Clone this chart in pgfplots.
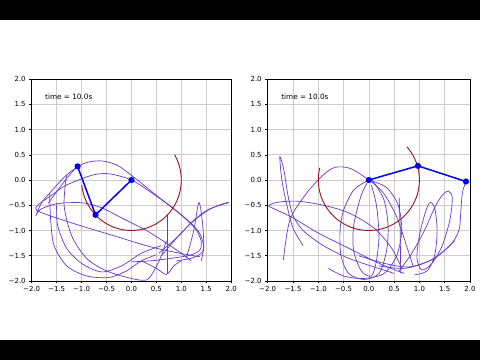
\documentclass[border=0pt]{standalone}
\usepackage{fontspec}
\setmainfont{DejaVu Sans}
\usepackage{pgfplots}
\pgfplotsset{compat=1.18}
\definecolor{trace}{rgb}{0.40,0.22,0.80}
\definecolor{arcred}{rgb}{0.62,0.06,0.12}
\definecolor{gridc}{rgb}{0.80,0.80,0.80}
\pgfplotsset{pend/.style={
  scale only axis, height=202bp,
  xmin=-2,xmax=2,ymin=-2,ymax=2,
  xtick={-2,-1.5,-1,-0.5,0,0.5,1,1.5,2},
  ytick={-2,-1.5,-1,-0.5,0,0.5,1,1.5,2},
  xticklabels={−2.0,−1.5,−1.0,−0.5,0.0,0.5,1.0,1.5,2.0},
  yticklabels={−2.0,−1.5,−1.0,−0.5,0.0,0.5,1.0,1.5,2.0},
  grid=major, major grid style={gridc, line width=0.6bp},
  axis line style={line width=0.6bp},
  tick align=outside, xtick pos=lower, ytick pos=left,
  major tick length=2.5bp, tick style={black, line width=0.5bp},
  ticklabel style={font=\fontsize{7}{8}\selectfont},
  xticklabel style={yshift=1bp},
  anchor=south west},
  tr/.style={trace, line width=0.7bp, smooth, tension=0.5},
  arc/.style={arcred, line width=0.9bp, smooth},
  link/.style={blue, line width=1.5bp, mark=*, mark size=2.3bp, mark options={fill=blue}}
}
\begin{document}
\begin{tikzpicture}
\useasboundingbox (0,0) rectangle (480bp,360bp);
\fill[white] (0,0) rectangle (480bp,360bp);
\fill[black] (0,0) rectangle (480bp,20bp);
\fill[black] (0,340bp) rectangle (480bp,360bp);
% left
\begin{axis}[pend, width=199.5bp, at={(31.7bp,79bp)}]
\addplot[tr] coordinates {(1.2,-1.6) (1.0,-1.45) (0.7,-1.25) (0.3,-1.0) (-0.2,-0.75) (-0.6,-0.55) (-1.0,-0.45) (-1.5,-0.47) (-1.82,-0.58) (-1.91,-0.69) (-1.8,-0.45) (-1.64,-0.26) (-1.30,0.10) (-0.97,0.32) (-0.64,0.38) (-0.30,0.30) (0.03,0.07) (0.37,-0.20) (0.70,-0.46) (1.04,-0.73) (1.30,-0.99) (1.40,-1.22) (1.37,-1.39) (1.17,-1.49) (0.8,-1.55) (0.4,-1.6) (0.0,-1.62)};
\addplot[tr] coordinates {(1.37,-1.52) (0.97,-1.45) (0.37,-1.32) (-0.30,-1.12) (-0.97,-0.92) (-1.6,-0.72) (-1.9,-0.6) (-1.88,-0.5) (-1.6,-0.3) (-1.30,-0.10) (-0.77,0.10) (-0.43,0.12) (0,0) (0.37,-0.23) (0.84,-0.56) (1.20,-0.86) (1.37,-1.06) (1.45,-1.32) (1.40,-1.45) (1.2,-1.55) (0.9,-1.6)};
\addplot[tr] coordinates {(-1.64,-0.26) (-1.62,-0.8) (-1.55,-1.3) (-1.3,-1.7) (-0.9,-1.9) (-0.45,-1.93) (-0.1,-1.8) (0.2,-1.6) (0.5,-1.48)};
\addplot[tr] coordinates {(-1.3,0.1) (-1.35,-0.5) (-1.2,-1.1) (-0.9,-1.55) (-0.5,-1.8) (0.0,-1.95) (0.3,-1.98) (0.45,-1.8) (0.6,-1.5) (0.7,-1.2)};
\addplot[tr] coordinates {(-1.5,-0.47) (-1.48,-0.9) (-1.3,-1.35) (-1.0,-1.65) (-0.6,-1.82) (-0.2,-1.7) (0.2,-1.45) (0.6,-1.3)};
\addplot[tr] coordinates {(-1.67,-0.46) (-1.4,-0.1) (-1.2,0.15) (-1.08,0.27)};
\addplot[trace, line width=0.7bp] coordinates {(0.72,-0.69) (0.72,-1.85)};
\addplot[tr] coordinates {(1.1,-1.55) (1.25,-1.0) (1.35,-0.45) (1.42,-0.8) (1.45,-1.3) (1.4,-1.6)};
\addplot[tr] coordinates {(0.55,-1.45) (0.9,-1.15) (1.2,-0.85) (1.5,-0.62) (1.75,-0.5) (1.95,-0.44)};
\addplot[tr] coordinates {(0.6,-1.5) (0.95,-1.1) (1.25,-0.8) (1.55,-0.58) (1.95,-0.45)};
\addplot[tr] coordinates {(0.2,-1.6) (0.5,-1.75) (0.7,-1.87) (0.85,-1.7) (1.0,-1.6)};
\addplot[arc] coordinates {(0.866,0.5) (0.940,0.342) (0.985,0.174) (1,0) (0.985,-0.174) (0.940,-0.342) (0.866,-0.5) (0.766,-0.643) (0.643,-0.766) (0.5,-0.866) (0.342,-0.940) (0.174,-0.985) (0,-1) (-0.174,-0.985) (-0.342,-0.940) (-0.5,-0.866) (-0.643,-0.766) (-0.766,-0.643) (-0.866,-0.5) (-0.940,-0.342) (-0.985,-0.174) (-0.995,-0.1)};
\addplot[link] coordinates {(0,0) (-0.72,-0.69) (-1.08,0.27)};
\node[anchor=base west, font=\fontsize{7.3}{8}\selectfont] at (rel axis cs:0.05,0.9) {time = 10.0s};
\end{axis}
% right
\begin{axis}[pend, width=202.3bp, at={(267.7bp,79bp)}]
\addplot[tr] coordinates {(-1.3,-1.3) (-1.5,-0.95) (-1.62,-0.5) (-1.72,0.0) (-1.76,0.46) (-1.68,0.2) (-1.6,-0.3) (-1.5,-0.7) (-1.3,-1.0) (-0.9,-1.3) (-0.4,-1.55) (0.1,-1.72) (0.5,-1.85)};
\addplot[tr] coordinates {(-1.69,-1.58) (-1.56,-0.79) (-1.23,-0.26) (-0.9,0.1) (-0.67,0.25) (-0.37,0.23) (0,0) (0.29,-0.26) (0.55,-0.73) (0.75,-1.32) (0.88,-1.72)};
\addplot[tr] coordinates {(0.7,-1.85) (0.2,-1.65) (-0.4,-1.35) (-1.0,-1.05) (-1.5,-0.75) (-1.85,-0.58) (-1.98,-0.51) (-1.8,-0.44) (-1.4,-0.42) (-0.9,-0.5) (-0.4,-0.65) (0.1,-0.95) (0.45,-1.35) (0.65,-1.75)};
\addplot[tr] coordinates {(0,0) (-0.3,-0.2) (-0.5,-0.6) (-0.57,-1.0) (-0.55,-1.5) (-0.4,-1.85) (-0.1,-1.97) (0.2,-1.85) (0.35,-1.4) (0.38,-0.9) (0.3,-0.4) (0.1,-0.05) (0,0)};
\addplot[tr] coordinates {(0,0) (-0.15,-0.3) (-0.3,-0.9) (-0.3,-1.4) (-0.15,-1.8) (0.05,-1.9) (0.15,-1.6) (0.2,-1.1) (0.15,-0.5) (0.05,-0.1)};
\addplot[tr] coordinates {(0,0) (0.35,-0.15) (0.58,-0.5) (0.65,-1.0) (0.55,-1.5) (0.3,-1.85) (-0.1,-1.95) (-0.5,-1.9) (-0.8,-1.75)};
\addplot[trace, line width=0.7bp] coordinates {(0.6,-0.35) (0.62,-1.0) (0.63,-1.85)};
\addplot[tr] coordinates {(0.6,-1.8) (0.85,-1.45) (1.1,-1.0) (1.3,-0.55) (1.45,-0.3) (1.57,-0.22) (1.65,-0.35) (1.6,-0.8) (1.45,-1.3) (1.25,-1.65) (1.05,-1.78) (0.95,-1.55) (1.0,-1.1) (1.1,-0.7) (1.2,-0.45) (1.3,-0.55) (1.35,-1.0) (1.3,-1.5) (1.15,-1.8) (0.9,-1.88)};
\addplot[tr] coordinates {(0.2,-1.7) (0.7,-1.75) (1.2,-1.6) (1.6,-1.3) (1.78,-1.0) (1.82,-0.6) (1.85,-0.25) (1.92,-0.03)};
\addplot[tr] coordinates {(-0.2,-1.5) (0.3,-1.65) (0.8,-1.72) (1.3,-1.55) (1.7,-1.2)};
\addplot[arc] coordinates {(0.755,0.656) (0.866,0.5) (0.940,0.342) (0.985,0.174) (1,0) (0.985,-0.174) (0.940,-0.342) (0.866,-0.5) (0.766,-0.643) (0.643,-0.766) (0.5,-0.866) (0.342,-0.940) (0.174,-0.985) (0,-1) (-0.174,-0.985) (-0.342,-0.940) (-0.5,-0.866) (-0.643,-0.766) (-0.766,-0.643) (-0.866,-0.5) (-0.940,-0.342) (-0.985,-0.174) (-1,0) (-0.985,0.174) (-0.970,0.242)};
\addplot[link] coordinates {(0,0) (0.97,0.28) (1.92,-0.03)};
\node[anchor=base west, font=\fontsize{7.3}{8}\selectfont] at (rel axis cs:0.05,0.9) {time = 10.0s};
\end{axis}
\end{tikzpicture}
\end{document}
